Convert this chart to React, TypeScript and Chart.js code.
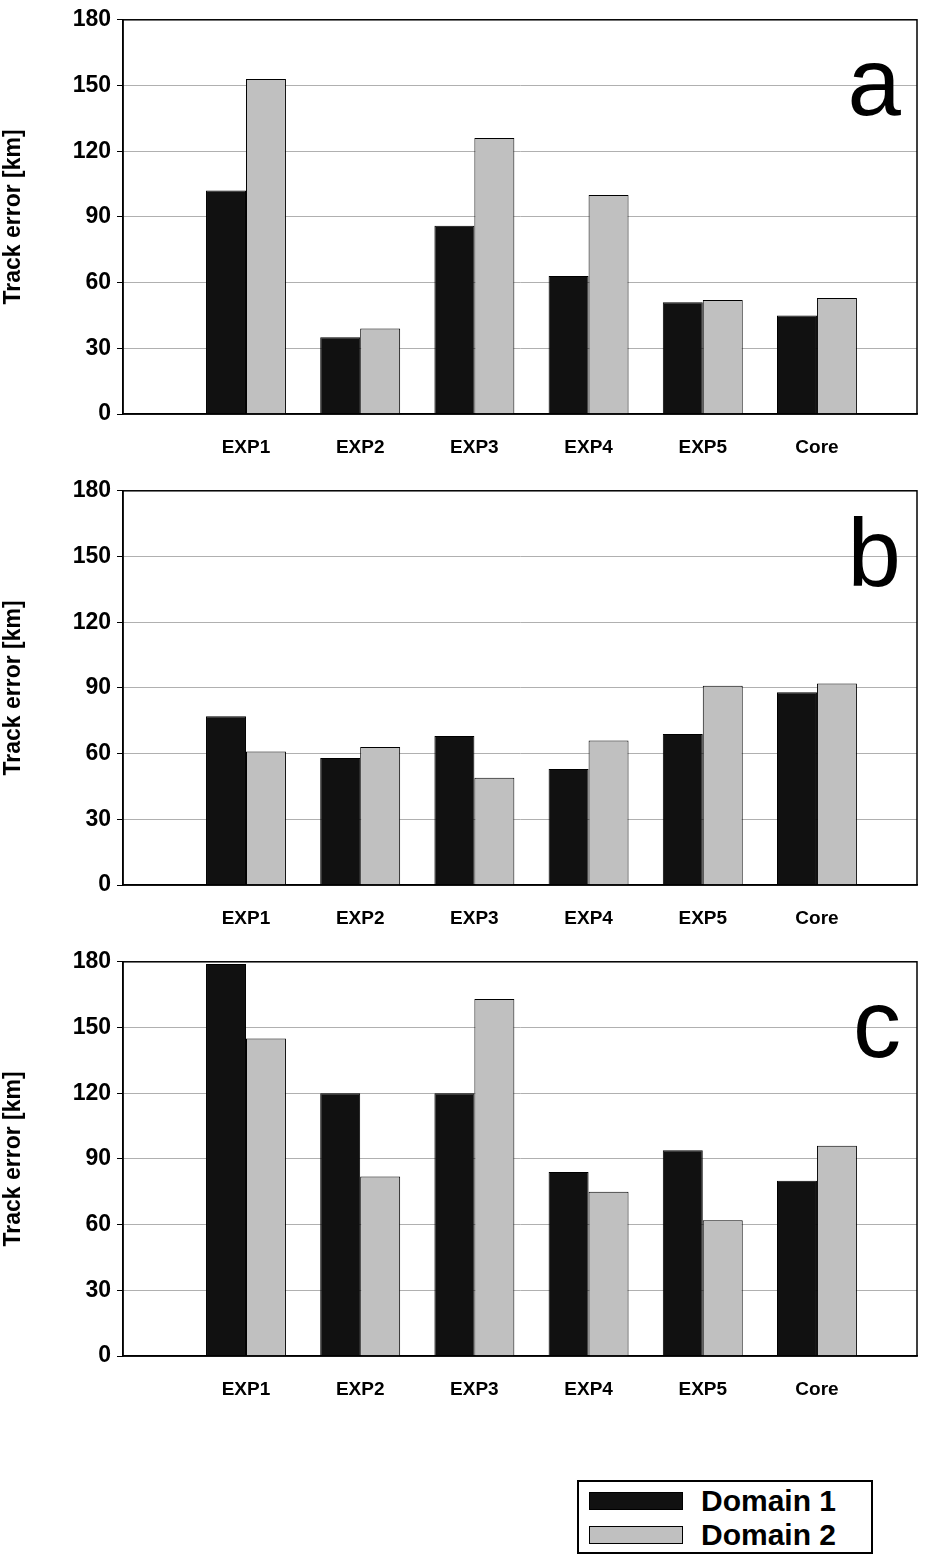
import { useEffect, useRef } from "react"
import { Chart, registerables } from "chart.js"

Chart.register(...registerables)

const categories = ["EXP1", "EXP2", "EXP3", "EXP4", "EXP5", "Core"]
const yTicks = [0, 30, 60, 90, 120, 150, 180]

const aDomain1 = [102, 35, 86, 63, 51, 45]
const aDomain2 = [153, 39, 126, 100, 52, 53]
const bDomain1 = [77, 58, 68, 53, 69, 88]
const bDomain2 = [61, 63, 49, 66, 91, 92]
const cDomain1 = [179, 120, 120, 84, 94, 80]
const cDomain2 = [145, 82, 163, 75, 62, 96]

const FONT = "'Liberation Sans', Arial, sans-serif"

const toPoints = (vals: number[]) => vals.map((y, i) => ({ x: i + 1, y }))

function Panel({ letter, d1, d2 }: { letter: string; d1: number[]; d2: number[] }) {
  const ref = useRef<HTMLCanvasElement>(null)

  useEffect(() => {
    if (!ref.current) return
    const chart = new Chart(ref.current, {
      type: "bar",
      data: {
        datasets: [
          { label: "Domain 1", data: toPoints(d1) as any, backgroundColor: "#111", borderColor: "#000", borderWidth: 1 },
          { label: "Domain 2", data: toPoints(d2) as any, backgroundColor: "#c0c0c0", borderColor: "#000", borderWidth: 1 },
        ],
      },
      options: {
        animation: false,
        responsive: false,
        layout: { padding: { top: 15, right: 16, left: 0, bottom: 0 } },
        datasets: { bar: { categoryPercentage: 0.7, barPercentage: 1 } },
        plugins: { legend: { display: false }, tooltip: { enabled: false } },
        scales: {
          x: {
            type: "linear",
            min: -0.077,
            max: 6.876,
            offset: false,
            afterBuildTicks: (s: any) => { s.ticks = categories.map((_, i) => ({ value: i + 1 })) },
            grid: { display: false, drawTicks: false },
            border: { color: "#000", width: 1.5 },
            ticks: {
              color: "#000",
              font: { family: FONT, size: 19, weight: "bold" },
              padding: 22,
              callback: (v: any) => categories[Math.round(v) - 1] ?? "",
            },
            afterFit: (s: any) => { s.height = 57 },
          },
          y: {
            min: 0,
            max: 180,
            afterBuildTicks: (s: any) => { s.ticks = yTicks.map((v) => ({ value: v })) },
            grid: { color: "#b0b0b0", lineWidth: 1, tickColor: "#000", tickLength: 6 },
            border: { color: "#000", width: 1.5 },
            ticks: { color: "#000", font: { family: FONT, size: 23, weight: "bold" }, padding: 6 },
            title: { display: true, text: "Track error [km]", color: "#000", font: { family: FONT, size: 23, weight: "bold" }, padding: 0 },
            afterFit: (s: any) => { s.width = 123 },
          },
        },
      },
      plugins: [
        {
          id: "frame",
          afterDraw: (c: any) => {
            const { ctx, chartArea: a } = c
            ctx.save()
            ctx.strokeStyle = "#000"
            ctx.lineWidth = 1.5
            ctx.strokeRect(a.left, a.top, a.right - a.left, a.bottom - a.top)
            ctx.fillStyle = "#000"
            ctx.font = `96px ${FONT}`
            ctx.textAlign = "right"
            ctx.textBaseline = "alphabetic"
            ctx.fillText(letter, a.right - 16, a.top + 95)
            ctx.restore()
          },
        },
      ],
    })
    return () => chart.destroy()
  }, [letter, d1, d2])

  return <canvas ref={ref} width={933} height={471} style={{ display: "block" }} />
}

export default function App() {
  useEffect(() => {
    document.body.style.margin = "0"
  }, [])
  const item = (color: string, label: string) => (
    <div style={{ display: "flex", alignItems: "center", height: 34 }}>
      <div style={{ width: 92, height: 16, background: color, border: "1px solid #000", marginRight: 18 }} />
      <span style={{ fontFamily: FONT, fontWeight: "bold", fontSize: 30, color: "#000" }}>{label}</span>
    </div>
  )
  return (
    <div style={{ width: 933, height: 1557, background: "#fff", position: "relative" }}>
      <Panel letter="a" d1={aDomain1} d2={aDomain2} />
      <Panel letter="b" d1={bDomain1} d2={bDomain2} />
      <Panel letter="c" d1={cDomain1} d2={cDomain2} />
      <div
        style={{
          position: "absolute", left: 577, top: 1480, width: 282, height: 68,
          border: "2px solid #000", padding: "2px 0 0 10px",
        }}
      >
        {item("#111", "Domain 1")}
        {item("#c0c0c0", "Domain 2")}
      </div>
    </div>
  )
}
